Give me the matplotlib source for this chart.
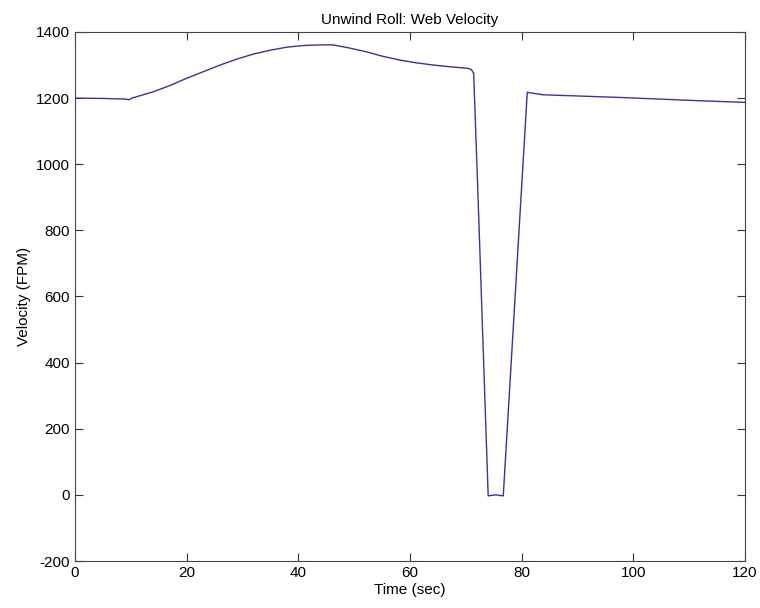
import matplotlib
matplotlib.use("Agg")
import matplotlib.pyplot as plt

time_sec = [0, 5, 9.0, 9.7, 10.2, 14.0, 17.0, 20.0, 23.0, 26.0, 29.0, 31.9, 35.0, 37.9, 40.9, 43.9,
            46.2, 49.0, 52.2, 55.0, 58.2, 61.0, 64.2, 67.0, 70.4, 71.0, 71.4, 72.2, 74.0, 75.3, 76.7,
            81.0, 81.5, 83.9, 97.6, 111.9, 120.0]
velocity_fpm = [1200, 1199, 1197, 1195, 1200, 1219, 1238, 1260, 1280, 1300, 1318, 1333, 1345, 1354, 1359, 1361,
                1361, 1352, 1340, 1327, 1315, 1307, 1300, 1295, 1290, 1286, 1275, 892, -3, 0, -3,
                1218, 1216, 1210, 1202, 1192, 1187]

x_ticks = [0, 20, 40, 60, 80, 100, 120]
y_ticks = [-200, 0, 200, 400, 600, 800, 1000, 1200, 1400]

plt.rcParams['font.family'] = ['Liberation Sans', 'DejaVu Sans']
plt.rcParams['axes.unicode_minus'] = False
fig = plt.figure(figsize=(7.6, 6.08), dpi=100)
ax = fig.add_axes([0.0987, 0.0773, 0.8816, 0.8701])
ax.plot(time_sec, velocity_fpm, color='#35359a', lw=1.0)
ax.set_xlim(0, 120)
ax.set_ylim(-200, 1400)
ax.set_xticks(x_ticks)
ax.set_yticks(y_ticks)
ax.tick_params(direction='in', top=True, right=True, labelsize=11, length=6, color='#333333')
for s in ax.spines.values():
    s.set_color('#444444')
    s.set_linewidth(0.8)
ax.set_xlabel('Time (sec)', fontsize=11, labelpad=2)
ax.set_ylabel('Velocity (FPM)', fontsize=11, labelpad=4)
ax.set_title('Unwind Roll: Web Velocity', fontsize=11, pad=6)
fig.savefig('out.png', dpi=100)
